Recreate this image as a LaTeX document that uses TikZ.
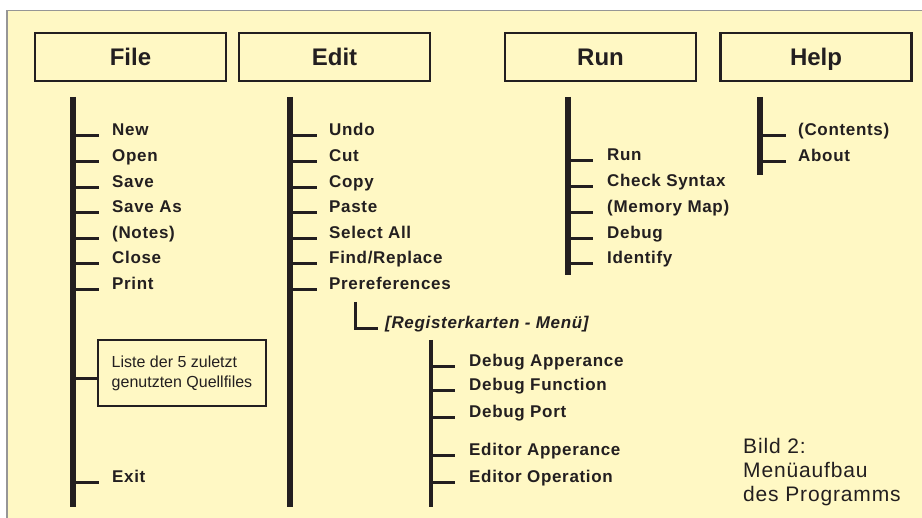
\documentclass[tikz,border=0pt]{standalone}
\usepackage{fontspec}
\setmainfont{Liberation Sans}
\newfontfamily\spacedfont[LetterSpace=4]{Liberation Sans}
\usetikzlibrary{calc}
\definecolor{bgyellow}{RGB}{255,248,196}
\definecolor{ink}{RGB}{35,31,32}
\definecolor{rimgray}{RGB}{150,150,150}

\begin{document}
\begin{tikzpicture}[x=1pt, y=-1pt,
  menubox/.style={draw=ink, fill=bgyellow, line width=2.6pt, minimum width=191pt, minimum height=48pt, inner sep=0pt, text height=17.2pt, text depth=0pt, text=ink, font=\fontsize{24}{28}\selectfont\bfseries},
  item/.style={anchor=base west, inner sep=0pt, text=ink, font=\spacedfont\fontsize{17}{20}\selectfont\bfseries},
  listbox/.style={draw=ink, fill=bgyellow, line width=2.6pt, minimum width=168pt, minimum height=66pt, align=left, text=ink, font=\fontsize{16}{20}\selectfont},
  trunk/.style={draw=ink, line width=6pt},
  subtrunk/.style={draw=ink, line width=4pt},
  stub/.style={draw=ink, line width=3pt}]
\useasboundingbox (0,0) rectangle (922,518);
\fill[white] (0,0) rectangle (922,518);
\fill[bgyellow] (7,10.5) rectangle (922,518);
\draw[rimgray, line width=1.2pt] (7,518) -- (7,10.5) -- (922,10.5);

% menu bar
\node[menubox] (file) at (130.5,57) {File};
\node[menubox] (edit) at (334.5,57) {Edit};
\node[menubox] (run) at (600.5,57) {Run};
\node[menubox] (help) at (816,57) {Help};

% File
\coordinate (filetop) at (73,97);
\coordinate (filebot) at (73,507);
\draw[trunk] (filetop) -- (filebot);
\foreach \txt [count=\i] in {New,Open,Save,Save As,{(Notes)},Close,Print} {
    \node[item] (file\i) at (112,{136+(\i-1)*25.6}) {\txt};
    \draw[stub] (filetop |- file\i.base) -- ([xshift=-13pt]file\i.base west);
}
\node[listbox] (liste) at (182,373) {Liste der 5 zuletzt\\genutzten Quellfiles};
\draw[stub] ([yshift=-6pt]liste.west -| filetop) -- ([yshift=-6pt]liste.west);
\node[item] (exit) at (112,483) {Exit};
\draw[stub] (filetop |- exit.base) -- ([xshift=-13pt]exit.base west);

% Edit
\coordinate (edittop) at (290,97);
\coordinate (editbot) at (290,507);
\draw[trunk] (edittop) -- (editbot);
\foreach \txt [count=\i] in {Undo,Cut,Copy,Paste,Select All,Find/Replace,Prereferences} {
    \node[item] (edit\i) at (329,{136+(\i-1)*25.6}) {\txt};
    \draw[stub] (edittop |- edit\i.base) -- ([xshift=-12pt]edit\i.base west);
}
\coordinate (regtop) at (355,302);
\node[item, font=\spacedfont\fontsize{17}{20}\selectfont\bfseries\itshape] (reg) at (385,329) {[Registerkarten - Menü]};
\draw[stub] (regtop) |- ([xshift=-7pt]reg.base west);

% Registerkarten
\coordinate (subtop) at (431,340);
\coordinate (subbot) at (431,507);
\draw[subtrunk] (subtop) -- (subbot);
\foreach \y/\txt [count=\i] in {367/Debug Apperance,391/Debug Function,418/Debug Port,456/Editor Apperance,483/Editor Operation} {
    \node[item] (sub\i) at (469,\y) {\txt};
    \draw[stub] (subtop |- sub\i.base) -- ([xshift=-14pt]sub\i.base west);
}

% Run
\coordinate (runtop) at (568,97);
\coordinate (runbot) at (568,275);
\draw[trunk] (runtop) -- (runbot);
\foreach \txt [count=\i] in {Run,Check Syntax,{(Memory Map)},Debug,Identify} {
    \node[item] (run\i) at (607,{161+(\i-1)*25.7}) {\txt};
    \draw[stub] (runtop |- run\i.base) -- ([xshift=-14pt]run\i.base west);
}

% Help
\coordinate (helptop) at (760,97);
\coordinate (helpbot) at (760,175);
\draw[trunk] (helptop) -- (helpbot);
\foreach \txt [count=\i] in {{(Contents)},About} {
    \node[item] (help\i) at (798,{136+(\i-1)*25.4}) {\txt};
    \draw[stub] (helptop |- help\i.base) -- ([xshift=-12pt]help\i.base west);
}

% caption
\node[anchor=north west, inner sep=0pt, align=left, text=ink, font=\spacedfont\fontsize{21}{24}\selectfont] (bild) at (743,438) {Bild 2:\\Menüaufbau\\des Programms};
\end{tikzpicture}
\end{document}
